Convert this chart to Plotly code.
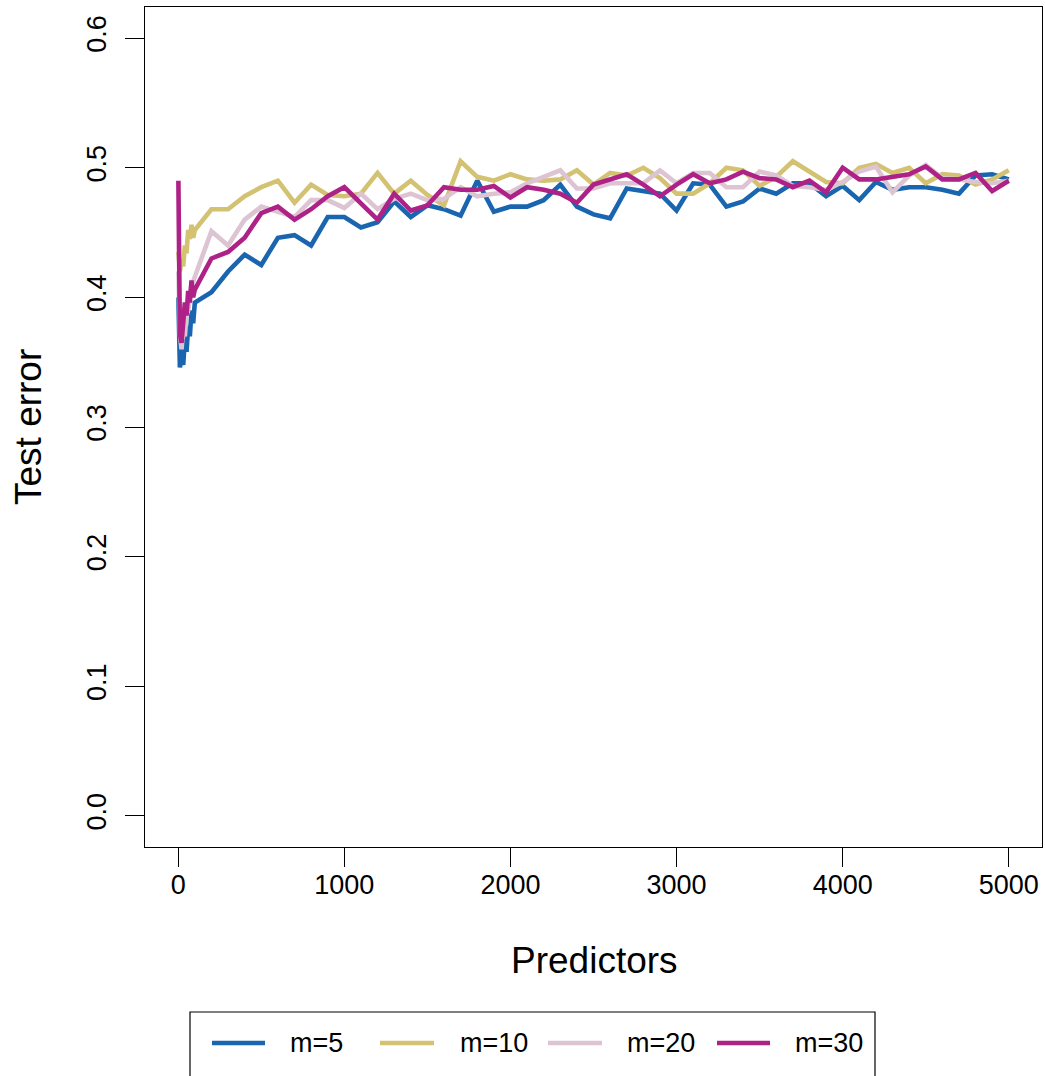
import plotly.graph_objects as go

# ---------------- data ----------------
predictors = [1, 10, 20, 30, 40, 50, 60, 70, 80, 90] + list(range(100, 5001, 100))

m5 = [0.400, 0.346, 0.352, 0.348, 0.368, 0.358, 0.378, 0.370, 0.390, 0.380,
      0.396, 0.404, 0.420, 0.433, 0.425, 0.446, 0.448, 0.440, 0.462, 0.462,
      0.454, 0.458, 0.474, 0.462, 0.471, 0.468, 0.463, 0.490, 0.466, 0.470,
      0.470, 0.475, 0.487, 0.470, 0.464, 0.461, 0.484, 0.482, 0.480, 0.467,
      0.488, 0.487, 0.470, 0.474, 0.484, 0.480, 0.488, 0.488, 0.478, 0.486,
      0.475, 0.489, 0.483, 0.485, 0.485, 0.483, 0.480, 0.494, 0.495, 0.491]

m10 = [0.435, 0.420, 0.428, 0.424, 0.440, 0.434, 0.452, 0.445, 0.456, 0.446,
       0.452, 0.468, 0.468, 0.478, 0.485, 0.490, 0.473, 0.487, 0.479, 0.478,
       0.480, 0.496, 0.480, 0.490, 0.479, 0.471, 0.505, 0.493, 0.490, 0.495,
       0.491, 0.490, 0.491, 0.498, 0.487, 0.496, 0.494, 0.500, 0.492, 0.480,
       0.480, 0.488, 0.500, 0.498, 0.486, 0.493, 0.505, 0.497, 0.489, 0.488,
       0.500, 0.503, 0.496, 0.500, 0.488, 0.495, 0.494, 0.487, 0.491, 0.498]

m20 = [0.420, 0.372, 0.360, 0.376, 0.370, 0.386, 0.390, 0.400, 0.410, 0.412,
       0.416, 0.451, 0.440, 0.460, 0.470, 0.466, 0.462, 0.475, 0.475, 0.469,
       0.480, 0.468, 0.476, 0.480, 0.475, 0.476, 0.485, 0.478, 0.480, 0.481,
       0.488, 0.493, 0.498, 0.484, 0.484, 0.488, 0.488, 0.488, 0.498, 0.488,
       0.496, 0.496, 0.485, 0.485, 0.497, 0.494, 0.486, 0.485, 0.483, 0.489,
       0.497, 0.501, 0.481, 0.494, 0.502, 0.492, 0.491, 0.489, 0.488, 0.490]

m30 = [0.490, 0.372, 0.365, 0.385, 0.396, 0.386, 0.405, 0.396, 0.413, 0.400,
       0.406, 0.430, 0.435, 0.446, 0.465, 0.470, 0.460, 0.468, 0.478, 0.485,
       0.473, 0.460, 0.480, 0.467, 0.471, 0.485, 0.483, 0.483, 0.486, 0.477,
       0.485, 0.483, 0.480, 0.473, 0.487, 0.491, 0.495, 0.487, 0.478, 0.487,
       0.495, 0.488, 0.491, 0.497, 0.492, 0.491, 0.485, 0.490, 0.481, 0.500,
       0.491, 0.491, 0.493, 0.495, 0.501, 0.491, 0.491, 0.496, 0.482, 0.490]

series_names = ["m=5", "m=10", "m=20", "m=30"]
series_values = [m5, m10, m20, m30]
series_colors = ["#1965B0", "#D2C272", "#DCC4D3", "#AE2186"]

x_ticks = [0, 1000, 2000, 3000, 4000, 5000]
y_ticks = [0.0, 0.1, 0.2, 0.3, 0.4, 0.5, 0.6]

# ---------------- layout geometry (pixels) ----------------
W, H = 1045, 1076
L, R, T, B = 145, 1042, 7, 847
FONT = "Liberation Sans, Arial, sans-serif"


def px_x(p):
    return (p - L) / (R - L)


def px_y(p):
    return (B - p) / (B - T)


fig = go.Figure()
for name, vals, col in zip(series_names, series_values, series_colors):
    fig.add_trace(go.Scatter(x=predictors, y=vals, mode="lines", name=name,
                             line=dict(color=col, width=4.6), showlegend=False))

axis_common = dict(showgrid=False, zeroline=False, showline=True, linecolor="black",
                   linewidth=1, mirror=True, ticks="outside", ticklen=19,
                   tickwidth=1, tickcolor="black",
                   tickfont=dict(family=FONT, size=27, color="black"))

fig.update_xaxes(range=[-200, 5200], tickvals=x_ticks,
                 ticktext=[str(v) for v in x_ticks], ticklabelstandoff=-5, **axis_common)
fig.update_yaxes(range=[-0.024, 0.624], tickvals=y_ticks,
                 ticktext=[f"{v:.1f}" for v in y_ticks], tickangle=-90,
                 ticklabelstandoff=8, **axis_common)

annotations = [
    dict(text="Predictors", xref="paper", yref="paper", x=px_x(594), y=px_y(960),
         showarrow=False, xanchor="center", yanchor="middle",
         font=dict(family=FONT, size=37, color="black")),
    dict(text="Test error", xref="paper", yref="paper", x=px_x(28), y=px_y(427),
         showarrow=False, xanchor="center", yanchor="middle", textangle=-90,
         font=dict(family=FONT, size=37, color="black")),
]

shapes = [
    dict(type="rect", xref="paper", yref="paper", x0=px_x(190), x1=px_x(875),
         y0=px_y(1012), y1=px_y(1090), line=dict(color="black", width=1.2),
         fillcolor="rgba(0,0,0,0)"),
]

seg_x = [(212, 265), (380, 434), (548, 602), (717, 770)]
txt_x = [288, 458, 625, 793]
leg_y = 1043
for (a, b), tx, name, col in zip(seg_x, txt_x, series_names, series_colors):
    shapes.append(dict(type="line", xref="paper", yref="paper", x0=px_x(a), x1=px_x(b),
                       y0=px_y(leg_y), y1=px_y(leg_y), line=dict(color=col, width=4.6)))
    annotations.append(dict(text=name, xref="paper", yref="paper", x=px_x(tx), y=px_y(leg_y),
                            showarrow=False, xanchor="left", yanchor="middle",
                            font=dict(family=FONT, size=27, color="black")))

fig.update_layout(
    width=W, height=H, autosize=False,
    margin=dict(l=L, r=W - R, t=T, b=H - B, pad=0),
    paper_bgcolor="white", plot_bgcolor="white",
    annotations=annotations, shapes=shapes, showlegend=False,
)

fig.write_html("out.html", config={"displayModeBar": False},
               post_script="document.body.style.margin='0px';"
                           "document.body.style.overflow='hidden';"
                           "document.documentElement.style.overflow='hidden';")
